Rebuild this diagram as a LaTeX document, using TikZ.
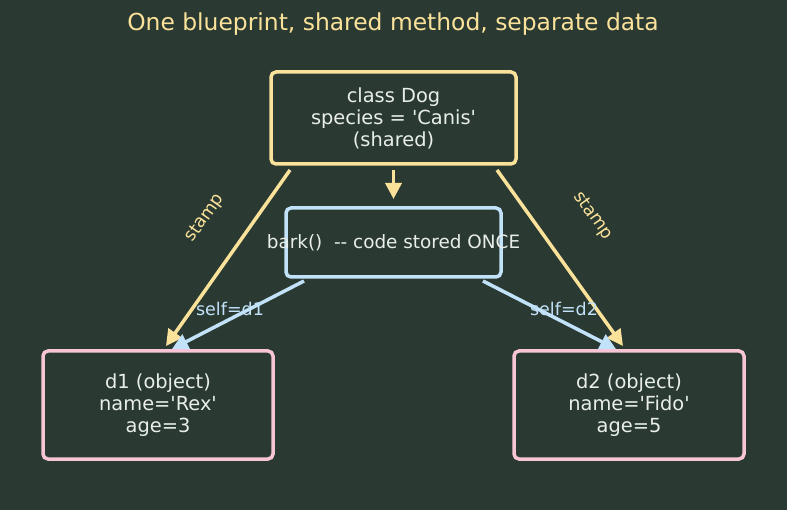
\documentclass[tikz,border=0pt]{standalone}
\usepackage{fontspec}
\setmainfont{DejaVu Sans}[Ligatures=TeXOff]
\usepackage{tikz}
\usetikzlibrary{arrows.meta}
\usetikzlibrary{positioning, shapes.geometric}

\definecolor{bgcol}{HTML}{2A3A32}
\definecolor{yelcol}{HTML}{FBE29A}
\definecolor{bluecol}{HTML}{C2E2FA}
\definecolor{pinkcol}{HTML}{F7C5D5}
\definecolor{txtcol}{HTML}{E9EEE9}

\tikzset{
    box/.style={draw, line width=3.5pt, rounded corners=5pt, fill=bgcol,
        text=txtcol, align=center, inner sep=0pt,
        font=\fontsize{19.4}{22}\selectfont},
    classbox/.style={box, draw=yelcol, minimum width=245pt, minimum height=92pt},
    methbox/.style={box, draw=bluecol, minimum width=215pt, minimum height=69pt,
        font=\fontsize{18.4}{22}\selectfont},
    objbox/.style={box, draw=pinkcol, minimum width=230pt, minimum height=108pt},
    stampline/.style={draw=yelcol, line width=3.5pt, -{Triangle[length=16pt,width=16pt]}},
    selfline/.style={draw=bluecol, line width=3.5pt, -{Triangle[length=16pt,width=16pt]}},
    edgelbl/.style={font=\fontsize{17.5}{19}\selectfont},
}

\begin{document}
\begin{tikzpicture}[x=1pt, y=-1pt]
        \useasboundingbox[fill=bgcol] (0,0) rectangle (787,510);

        \node[text=yelcol, font=\fontsize{23.4}{26}\selectfont] (title) at (393,24)
            {One blueprint, shared method, separate data};

        \node[classbox] (dog) at (393.5,118) {class Dog\\species = 'Canis'\\(shared)};
        \node[methbox] (bark) at (393.5,242.5) {\makebox[0pt]{bark()\ \ -- code stored ONCE}};
        \node[objbox] (d1) at (158,405) {d1 (object)\\name='Rex'\\age=3};
        \node[objbox] (d2) at (629,405) {d2 (object)\\name='Fido'\\age=5};

        % ends of the connectors
        \coordinate (dogL) at (290,170);
        \coordinate (dogM) at (393.5,170);
        \coordinate (dogR) at (497,170);
        \coordinate (barkL) at (304,281);
        \coordinate (barkR) at (483,281);
        \coordinate (d1s) at (166,346);
        \coordinate (d1b) at (172,349);
        \coordinate (d2s) at (623,346);
        \coordinate (d2b) at (616,349);
        \coordinate (barkT) at (393.5,199);

        \draw[stampline] (dogM) -- (barkT);
        \draw[stampline] (dogL) -- (d1s);
        \draw[stampline] (dogR) -- (d2s);
        \draw[selfline] (barkL) -- (d1b);
        \draw[selfline] (barkR) -- (d2b);

        \node[edgelbl, text=yelcol, rotate=55] (stampL) at (205,218) {stamp};
        \node[edgelbl, text=yelcol, rotate=-55] (stampR) at (593,216) {stamp};
        \node[edgelbl, text=bluecol] (selfL) at (230,309) {self=d1};
        \node[edgelbl, text=bluecol] (selfR) at (564,309) {self=d2};
    \end{tikzpicture}
\end{document}
